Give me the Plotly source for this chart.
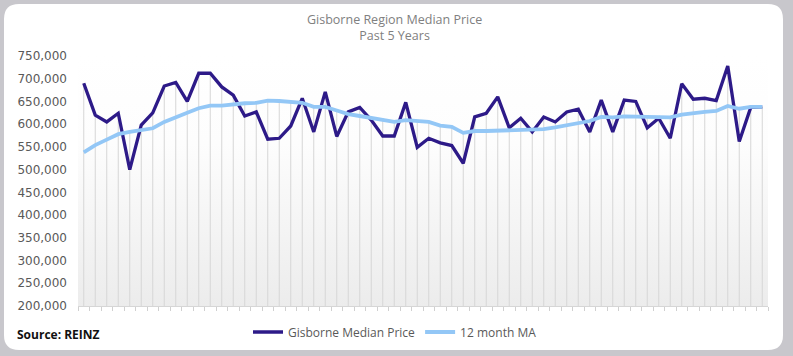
import base64
import plotly.graph_objects as go

# ---------------- data ----------------
months = list(range(60))  # 60 monthly observations (past 5 years)

median_price = [690000, 620000, 605000, 624000, 500000, 598000, 625000, 684000, 692000, 650000,
                712000, 712000, 682000, 664000, 618000, 627000, 567000, 569000, 596000, 657000,
                583000, 671000, 573000, 627000, 637000, 609000, 574000, 574000, 648000, 549000,
                569000, 559000, 553000, 514000, 616000, 624000, 660000, 592000, 613000, 583000,
                616000, 605000, 627000, 633000, 583000, 653000, 583000, 653000, 650000, 592000,
                613000, 569000, 689000, 655000, 657000, 652000, 728000, 562000, 637000, 638000]

ma_12 = [538000, 554000, 566000, 578000, 583000, 587000, 591000, 605000, 614000, 625000,
         635000, 641000, 641000, 644000, 646000, 647000, 652000, 651000, 649000, 647000,
         638000, 638000, 630000, 622000, 618000, 613000, 609000, 605000, 609000, 607000,
         605000, 597000, 594000, 581000, 585000, 585000, 586000, 586000, 587000, 589000,
         589000, 593000, 598000, 603000, 607000, 616000, 615000, 617000, 617000, 616000,
         615000, 615000, 621000, 625000, 627000, 629000, 640000, 634000, 638000, 638000]

y_ticks = [200000, 250000, 300000, 350000, 400000, 450000, 500000,
           550000, 600000, 650000, 700000, 750000]

title_text = "Gisborne Region Median Price<br>Past 5 Years"
series_names = ["Gisborne Median Price", "12 month MA"]
source_text = "<b>Source: REINZ</b>"

# ---------------- layout geometry ----------------
W, H = 793, 356
ML, MR, MT, MB = 78, 25, 56, 50
PW = W - ML - MR
PH = H - MT - MB
y_min, y_max = y_ticks[0], y_ticks[-1]


def px2x(px):
    return (px - ML) / PW


def px2y(py):
    return (H - MB - py) / PH


DARK = "#2d1a88"
LIGHT = "#93c7f6"
GRAY_TXT = "#595959"

fig = go.Figure()

# drop lines (from the higher of the two series down to the axis)
dx, dy = [], []
for m, a, b in zip(months, median_price, ma_12):
    dx += [m, m, None]
    dy += [max(a, b), y_min, None]
fig.add_trace(go.Scatter(x=dx, y=dy, mode="lines",
                         line=dict(color="#d6d6d6", width=1),
                         showlegend=False, hoverinfo="skip"))

fig.add_trace(go.Scatter(x=months, y=median_price, mode="lines",
                         name=series_names[0],
                         line=dict(color=DARK, width=3.3)))
fig.add_trace(go.Scatter(x=months, y=ma_12, mode="lines",
                         name=series_names[1],
                         line=dict(color=LIGHT, width=3.8)))

# gradient plot background
svg = ('<svg xmlns="http://www.w3.org/2000/svg" width="100" height="100" viewBox="0 0 100 100" '
       'preserveAspectRatio="none"><defs><linearGradient id="g" x1="0" y1="0" x2="0" y2="1">'
       '<stop offset="0" stop-color="#ffffff"/><stop offset="0.35" stop-color="#fdfdfd"/>'
       '<stop offset="1" stop-color="#ececec"/></linearGradient></defs>'
       '<rect x="0" y="0" width="100" height="100" fill="url(#g)"/></svg>')
svg_uri = "data:image/svg+xml;base64," + base64.b64encode(svg.encode()).decode()
fig.add_layout_image(dict(source=svg_uri, xref="x", yref="y",
                          x=months[0] - 0.5, y=y_max,
                          sizex=len(months), sizey=y_max - y_min,
                          sizing="stretch", layer="below", opacity=1))

# white rounded card
L, R, T, B, r = 4, 783, 4, 350, 15
path = (f"M {px2x(L + r)},{px2y(T)} L {px2x(R - r)},{px2y(T)} "
        f"Q {px2x(R)},{px2y(T)} {px2x(R)},{px2y(T + r)} "
        f"L {px2x(R)},{px2y(B - r)} Q {px2x(R)},{px2y(B)} {px2x(R - r)},{px2y(B)} "
        f"L {px2x(L + r)},{px2y(B)} Q {px2x(L)},{px2y(B)} {px2x(L)},{px2y(B - r)} "
        f"L {px2x(L)},{px2y(T + r)} Q {px2x(L)},{px2y(T)} {px2x(L + r)},{px2y(T)} Z")
fig.add_shape(type="path", path=path, xref="paper", yref="paper",
              fillcolor="white", line=dict(width=0), layer="below")

fig.add_annotation(text=source_text, xref="paper", yref="paper",
                   x=px2x(15), y=px2y(334), xanchor="left", yanchor="middle",
                   showarrow=False,
                   font=dict(family="Open Sans", size=12, color="#111111"))

fig.add_annotation(text=title_text, xref="paper", yref="paper",
                   x=px2x(394), y=px2y(28), xanchor="center", yanchor="middle",
                   showarrow=False, align="center",
                   font=dict(family="Open Sans", size=12.5, color="#808080"))

fig.update_layout(
    width=W, height=H,
    margin=dict(l=ML, r=MR, t=MT, b=MB, autoexpand=False),
    paper_bgcolor="#c8c7cc",
    plot_bgcolor="rgba(0,0,0,0)",
    hovermode=False,
    legend=dict(orientation="h", xref="paper", yref="paper",
                x=px2x(395), xanchor="center", y=px2y(332), yanchor="middle",
                font=dict(family="Open Sans", size=12, color=GRAY_TXT),
                itemwidth=30, bgcolor="rgba(0,0,0,0)", traceorder="normal"),
    xaxis=dict(range=[months[0] - 0.5, months[-1] + 0.5],
               tickvals=[m - 0.5 for m in months] + [months[-1] + 0.5],
               ticks="outside", ticklen=4, tickcolor="#d0d0d0",
               showticklabels=False, showgrid=False, zeroline=False,
               showline=True, linecolor="#d6d6d6", linewidth=1),
    yaxis=dict(range=[y_min, y_max], tickvals=y_ticks, tickformat=",",
               showgrid=False, zeroline=False, showline=False, ticks="",
               ticklabelstandoff=10,
               tickfont=dict(family="DejaVu Sans", size=12, color=GRAY_TXT)),
)

fig.write_html(
    "out.html",
    config={"displayModeBar": False, "staticPlot": True},
    post_script="document.body.style.margin='0';document.body.style.overflow='hidden';",
)
